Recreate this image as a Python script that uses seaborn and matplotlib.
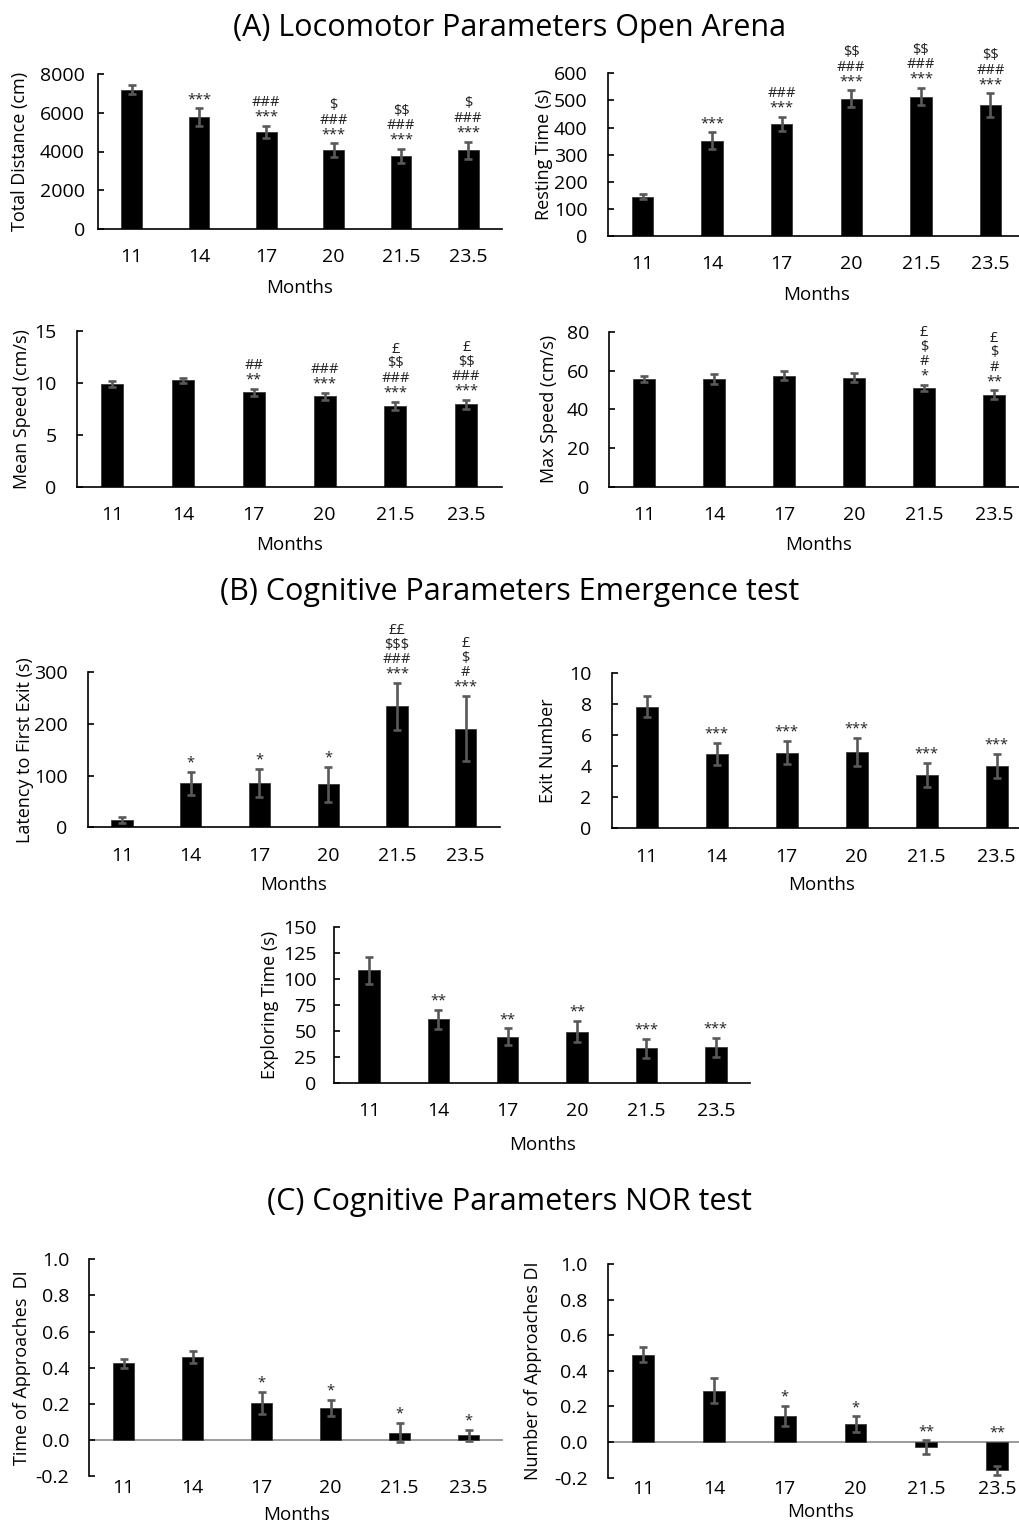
import numpy as np
import pandas as pd
import matplotlib
matplotlib.use("Agg")
import matplotlib.pyplot as plt
from matplotlib.ticker import FormatStrFormatter, MultipleLocator
import seaborn as sns

# ---------------- data ----------------
months = ["11", "14", "17", "20", "21.5", "23.5"]

total_distance = [7200, 5770, 5020, 4060, 3770, 4060]
total_distance_err = [220, 450, 300, 360, 360, 445]
total_distance_sig = ["", "***", "###\n***", "$\n###\n***", "$$\n###\n***", "$\n###\n***"]

resting_time = [145, 352, 413, 507, 514, 483]
resting_time_err = [10, 30, 27, 30, 32, 43]
resting_time_sig = ["", "***", "###\n***", "$$\n###\n***", "$$\n###\n***", "$$\n###\n***"]

mean_speed = [9.9, 10.25, 9.1, 8.7, 7.8, 7.95]
mean_speed_err = [0.3, 0.22, 0.35, 0.3, 0.4, 0.42]
mean_speed_sig = ["", "", "##\n**", "###\n***", "£\n$$\n###\n***", "£\n$$\n###\n***"]

max_speed = [55.8, 55.8, 57.4, 56.4, 51.0, 47.6]
max_speed_err = [1.4, 2.5, 2.3, 2.5, 1.7, 2.2]
max_speed_sig = ["", "", "", "", "£\n$\n#\n*", "£\n$\n#\n**"]

latency = [14, 85, 86, 83, 234, 191]
latency_err = [5, 23, 27, 34, 45, 63]
latency_sig = ["", "*", "*", "*", "££\n$$$\n###\n***", "£\n$\n#\n***"]

exit_number = [7.85, 4.79, 4.88, 4.94, 3.42, 4.02]
exit_number_err = [0.7, 0.7, 0.73, 0.9, 0.77, 0.8]
exit_number_sig = ["", "***", "***", "***", "***", "***"]

exploring_time = [108.6, 61.4, 44.6, 49.5, 33.4, 34.4]
exploring_time_err = [13, 9, 8, 10, 9, 9]
exploring_time_sig = ["", "**", "**", "**", "***", "***"]

time_di = [0.424, 0.461, 0.207, 0.177, 0.042, 0.026]
time_di_err = [0.025, 0.033, 0.06, 0.043, 0.053, 0.03]
time_di_sig = ["", "", "*", "*", "*", "*"]

number_di = [0.49, 0.289, 0.146, 0.101, -0.028, -0.159]
number_di_err = [0.043, 0.07, 0.055, 0.043, 0.037, 0.024]
number_di_sig = ["", "", "*", "*", "**", "**"]

titles = ["(A) Locomotor Parameters Open Arena",
          "(B) Cognitive Parameters Emergence test",
          "(C) Cognitive Parameters NOR test"]

# ---------------- style ----------------
sns.set_theme(style="ticks")
plt.rcParams["font.family"] = ["Open Sans", "DejaVu Sans"]
plt.rcParams["axes.unicode_minus"] = False
plt.rcParams["text.parse_math"] = False

W, H = 1019, 1524
fig = plt.figure(figsize=(W / 100, H / 100), dpi=100)
fig.patch.set_facecolor("white")

ERR_COLOR = "#595959"


def px_axes(x0, y0, x1, y1):
    return fig.add_axes([x0 / W, 1 - y1 / H, (x1 - x0) / W, (y1 - y0) / H])


def panel(box, vals, errs, sigs, ylabel, ylim, ystep, ylab_x, xlab_y,
          ypad=14.4, xpad=14.0, fmt=None, zero_line=False):
    ax = px_axes(*box)
    df = pd.DataFrame({"Months": months, "value": vals})
    sns.barplot(data=df, x="Months", y="value", order=months, color="black",
                saturation=1, width=0.31, edgecolor="#3a3a3a", linewidth=0.6,
                ax=ax)
    xs = [p.get_x() + p.get_width() / 2 for p in ax.patches]
    ax.errorbar(xs, vals, yerr=errs, fmt="none", ecolor=ERR_COLOR,
                elinewidth=1.9, capsize=2.8, capthick=1.9, zorder=3)
    for x, v, e, s in zip(xs, vals, errs, sigs):
        if s:
            top = max(v + e, 0)
            ax.annotate(s, (x, top), xytext=(0, 1), textcoords="offset points",
                        ha="center", va="bottom", fontsize=10.5,
                        linespacing=0.95, color="#222222", parse_math=False)
    ax.set_xlim(-0.5, 5.5)
    ax.set_ylim(*ylim)
    ax.yaxis.set_major_locator(MultipleLocator(ystep))
    if fmt:
        ax.yaxis.set_major_formatter(FormatStrFormatter(fmt))
    sns.despine(ax=ax)
    ax.spines["left"].set_linewidth(1.2)
    ax.spines["left"].set_color("black")
    if zero_line:
        ax.spines["bottom"].set_visible(False)
        ax.axhline(0, color="#8a8a8a", lw=1.2, zorder=0.5)
    else:
        ax.spines["bottom"].set_linewidth(1.2)
        ax.spines["bottom"].set_color("black")
    ax.tick_params(axis="y", direction="in", length=4.5, width=1.2,
                   labelsize=14, pad=ypad, colors="black")
    ax.tick_params(axis="x", length=0, labelsize=14, pad=xpad,
                   colors="black")
    ax.set_ylabel(ylabel, fontsize=13, color="black")
    ax.set_xlabel("Months", fontsize=13.5, color="black")
    cy = (box[1] + box[3]) / 2
    ax.yaxis.label.set_verticalalignment("center")
    ax.yaxis.set_label_coords(ylab_x / W, 1 - cy / H, transform=fig.transFigure)
    cx = (box[0] + box[2]) / 2
    ax.xaxis.label.set_verticalalignment("center")
    ax.xaxis.set_label_coords(cx / W, 1 - xlab_y / H, transform=fig.transFigure)
    ax.set_facecolor("white")
    return ax


panel((98, 74, 502, 229), total_distance, total_distance_err, total_distance_sig,
      "Total Distance (cm)", (0, 8000), 2000, 20, 288, ypad=9.4)
panel((607.7, 73.3, 1025.3, 236), resting_time, resting_time_err, resting_time_sig,
      "Resting Time (s)", (0, 600), 100, 544, 295)
panel((76.7, 331, 501.7, 486.7), mean_speed, mean_speed_err, mean_speed_sig,
      "Mean Speed (cm/s)", (0, 15), 5, 22, 545)
panel((609, 332, 1029, 486.7), max_speed, max_speed_err, max_speed_sig,
      "Max Speed (cm/s)", (0, 80), 20, 549, 545)
panel((87.7, 672.3, 500, 827.3), latency, latency_err, latency_sig,
      "Latency to First Exit (s)", (0, 300), 100, 25, 885)
panel((611.7, 673.3, 1031.7, 828.3), exit_number, exit_number_err, exit_number_sig,
      "Exit Number", (0, 10), 2, 548, 885)
panel((334.3, 927.3, 750.5, 1083), exploring_time, exploring_time_err, exploring_time_sig,
      "Exploring Time (s)", (0, 150), 25, 270, 1145, ypad=12.7)
panel((89.3, 1259.3, 503, 1476.3), time_di, time_di_err, time_di_sig,
      "Time of Approaches  DI", (-0.2, 1.0), 0.2, 22.5, 1515,
      xpad=2.0, fmt="%.1f", zero_line=True)
panel((607.7, 1264, 1032.5, 1477.7), number_di, number_di_err, number_di_sig,
      "Number of Approaches DI", (-0.2, 1.0), 0.2, 533, 1512,
      xpad=2.0, fmt="%.1f", zero_line=True)

for t, y in zip(titles, [28, 592, 1202]):
    fig.text(0.5, 1 - y / H, t, ha="center", va="center", fontsize=22,
             color="black")

fig.savefig("out.png", dpi=100, facecolor="white")
